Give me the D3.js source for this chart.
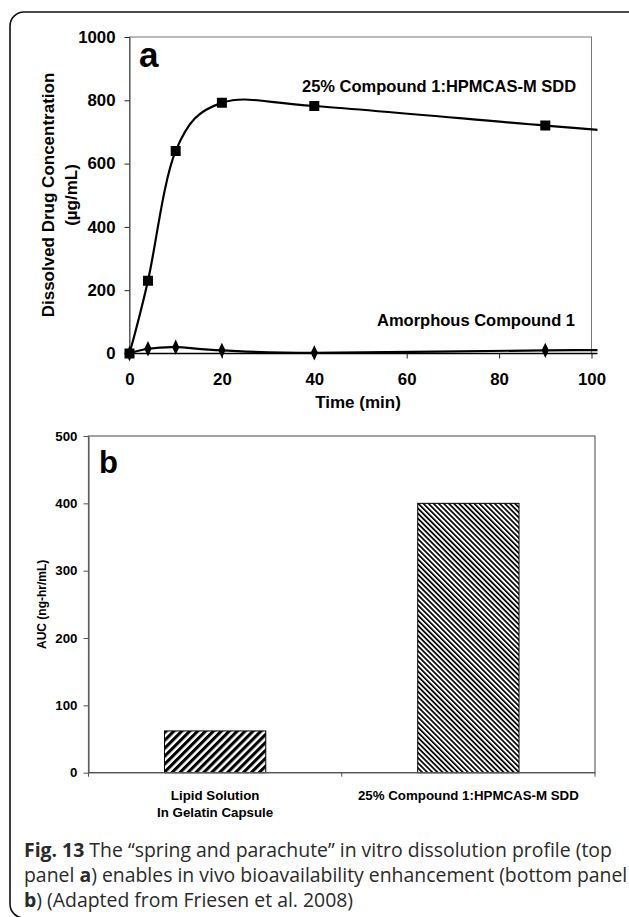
<!DOCTYPE html>
<html>
<head>
<meta charset="utf-8">
<script src="https://cdn.jsdelivr.net/npm/d3@7"></script>
<style>
  body { margin: 0; background: #fff; }
  svg { display: block; }
</style>
</head>
<body>
<div id="fig"></div>
<script>
// panel a data: dissolution profile
const timeMin = [0, 4, 10, 20, 40, 90, 120];
const sddConc = [0, 230, 640, 792, 782, 720, 685];
const amorphConc = [0, 15, 20, 10, 2, 10, 10];
const xTicksA = [0, 20, 40, 60, 80, 100];
const yTicksA = [0, 200, 400, 600, 800, 1000];

// panel b data: AUC bars
const aucCategories = ["Lipid Solution|In Gelatin Capsule", "25% Compound 1:HPMCAS-M SDD"];
const aucValues = [62, 400];
const yTicksB = [0, 100, 200, 300, 400, 500];

const sans = "'Liberation Sans', Arial, sans-serif";

const svg = d3.select("#fig").append("svg")
    .attr("width", 629)
    .attr("height", 917)
    .style("font-family", sans);

// rounded outer frame (runs off the right and bottom edges)
svg.append("rect")
    .attr("x", 10).attr("y", 12)
    .attr("width", 660).attr("height", 906)
    .attr("rx", 14)
    .attr("fill", "none")
    .attr("stroke", "#111")
    .attr("stroke-width", 1.6);

panelA();
panelB();
caption();

function panelA() {
    let x = d3.scaleLinear().domain([0, 100]).range([129.5, 591.5]);
    let y = d3.scaleLinear().domain([0, 1000]).range([353.5, 37]);
    let g = svg.append("g");

    // plot area box
    g.append("rect")
        .attr("x", x(0)).attr("y", y(1000))
        .attr("width", x(100) - x(0)).attr("height", y(0) - y(1000))
        .attr("fill", "none").attr("stroke", "#777").attr("stroke-width", 1);

    // y axis
    let ya = g.append("g")
        .attr("transform", "translate(" + x(0) + ",0)")
        .call(d3.axisLeft(y).tickValues(yTicksA).tickFormat(d3.format("d"))
            .tickSize(5).tickSizeOuter(0).tickPadding(9));
    ya.select(".domain").attr("stroke", "#444");
    ya.selectAll("line").attr("stroke", "#222");
    ya.selectAll("text").attr("font-size", 16.8).attr("font-weight", "bold").attr("fill", "#000")
        .attr("font-family", sans);

    // x axis
    let xa = g.append("g")
        .attr("transform", "translate(0," + y(0) + ")")
        .call(d3.axisBottom(x).tickValues(xTicksA).tickSize(5).tickSizeOuter(0).tickPadding(15));
    xa.select(".domain").remove();
    xa.selectAll("line").attr("stroke", "#222");
    xa.selectAll("text").attr("font-size", 16.8).attr("font-weight", "bold").attr("fill", "#000")
        .attr("font-family", sans);
    g.append("line")
        .attr("x1", x(0) - 5).attr("x2", x(100) + 6)
        .attr("y1", y(0)).attr("y2", y(0))
        .attr("stroke", "#000").attr("stroke-width", 1.5);

    // axis titles
    g.append("text")
        .attr("x", 358).attr("y", 408)
        .attr("text-anchor", "middle")
        .attr("font-size", 17).attr("font-weight", "bold")
        .text("Time (min)");

    let yt = g.append("text")
        .attr("transform", "translate(48,195) rotate(-90)")
        .attr("text-anchor", "middle")
        .attr("font-size", 17).attr("font-weight", "bold");
    yt.append("tspan").attr("x", 0).attr("y", 6).text("Dissolved Drug Concentration");
    yt.append("tspan").attr("x", 0).attr("y", 29).text("(\u00b5g/mL)");

    // clip so the curves stop at the end of the x axis
    svg.append("clipPath").attr("id", "clipA")
        .append("rect")
        .attr("x", x(0) - 10).attr("y", y(1000))
        .attr("width", x(100) - x(0) + 16).attr("height", y(0) - y(1000) + 10);

    let sddPts = timeMin.map((t, i) => [t, sddConc[i]]);
    let amPts = timeMin.map((t, i) => [t, amorphConc[i]]);

    let line = d3.line()
        .x(d => x(d[0]))
        .y(d => y(d[1]))
        .curve(d3.curveCardinal.tension(0));

    let lines = g.append("g").attr("clip-path", "url(#clipA)");
    lines.append("path").attr("d", line(amPts))
        .attr("fill", "none").attr("stroke", "#000").attr("stroke-width", 2.2);
    lines.append("path").attr("d", line(sddPts))
        .attr("fill", "none").attr("stroke", "#000").attr("stroke-width", 2.2);

    // markers
    lines.selectAll(".dia")
        .data(amPts)
        .enter()
        .append("path")
        .attr("class", "dia")
        .attr("transform", d => "translate(" + x(d[0]) + "," + y(d[1]) + ") scale(0.9,1.1)")
        .attr("d", d3.symbol(d3.symbolDiamond, 56))
        .attr("fill", "#000");
    lines.selectAll(".sq")
        .data(sddPts)
        .enter()
        .append("path")
        .attr("class", "sq")
        .attr("transform", d => "translate(" + x(d[0]) + "," + y(d[1]) + ")")
        .attr("d", d3.symbol(d3.symbolSquare, 100))
        .attr("fill", "#000");

    // series labels and panel letter
    g.append("text")
        .attr("x", 302).attr("y", 91.5)
        .attr("font-size", 16.5).attr("font-weight", "bold")
        .text("25% Compound 1:HPMCAS-M SDD");
    g.append("text")
        .attr("x", 377).attr("y", 326)
        .attr("font-size", 16.5).attr("font-weight", "bold")
        .text("Amorphous Compound 1");
    g.append("text")
        .attr("x", 139).attr("y", 66.5)
        .attr("font-size", 35).attr("font-weight", "bold")
        .text("a");
}

function panelB() {
    let x = d3.scaleBand()
        .domain(aucCategories)
        .range([88.5, 595])
        .paddingInner(0.6)
        .paddingOuter(0.3);
    let y = d3.scaleLinear().domain([0, 500]).range([772.7, 436]);
    let g = svg.append("g");

    // hatch patterns
    let defs = svg.append("defs");
    defs.append("pattern")
        .attr("id", "hatchA")
        .attr("patternUnits", "userSpaceOnUse")
        .attr("width", 5.6).attr("height", 10)
        .attr("patternTransform", "rotate(45)")
        .append("rect")
        .attr("width", 3.1).attr("height", 10)
        .attr("fill", "#000");
    defs.append("pattern")
        .attr("id", "hatchB")
        .attr("patternUnits", "userSpaceOnUse")
        .attr("width", 3.6).attr("height", 10)
        .attr("patternTransform", "rotate(-45)")
        .append("rect")
        .attr("width", 1.7).attr("height", 10)
        .attr("fill", "#000");

    // plot area box
    g.append("rect")
        .attr("x", 88.5).attr("y", y(500))
        .attr("width", 595 - 88.5).attr("height", y(0) - y(500))
        .attr("fill", "none").attr("stroke", "#666").attr("stroke-width", 1.2);

    // bars
    g.selectAll(".bar")
        .data(aucValues)
        .enter()
        .append("rect")
        .attr("class", "bar")
        .attr("x", (d, i) => x(aucCategories[i]))
        .attr("width", x.bandwidth())
        .attr("y", d => y(d))
        .attr("height", d => y(0) - y(d))
        .attr("fill", (d, i) => i === 0 ? "url(#hatchA)" : "url(#hatchB)")
        .attr("stroke", "#000")
        .attr("stroke-width", 1);

    // y axis
    let ya = g.append("g")
        .attr("transform", "translate(88.5,0)")
        .call(d3.axisLeft(y).tickValues(yTicksB).tickSize(5).tickSizeOuter(0).tickPadding(6));
    ya.select(".domain").attr("stroke", "#555");
    ya.selectAll("line").attr("stroke", "#555");
    ya.selectAll("text").attr("font-size", 13.3).attr("font-weight", "bold").attr("fill", "#000")
        .attr("font-family", sans);

    // x axis: ticks at category boundaries
    let bounds = [x.range()[0]].concat(aucCategories.map(c => x(c) + x.bandwidth() / 2 + x.step() / 2));
    g.append("line")
        .attr("x1", 88.5).attr("x2", 595)
        .attr("y1", y(0)).attr("y2", y(0))
        .attr("stroke", "#555").attr("stroke-width", 1.2);
    g.selectAll(".xt")
        .data(bounds)
        .enter()
        .append("line")
        .attr("x1", d => d).attr("x2", d => d)
        .attr("y1", y(0)).attr("y2", y(0) + 4)
        .attr("stroke", "#555");

    // category labels
    aucCategories.forEach(c => {
        let t = g.append("text")
            .attr("text-anchor", "middle")
            .attr("font-size", 13.3).attr("font-weight", "bold");
        c.split("|").forEach((s, i) => {
            t.append("tspan")
                .attr("x", x(c) + x.bandwidth() / 2)
                .attr("y", 800 + i * 16.7)
                .text(s);
        });
    });

    g.append("text")
        .attr("transform", "translate(46," + y(250) + ") rotate(-90)")
        .attr("text-anchor", "middle")
        .attr("font-size", 12).attr("font-weight", "bold")
        .text("AUC (ng-hr/mL)");

    g.append("text")
        .attr("x", 99).attr("y", 473)
        .attr("font-size", 31).attr("font-weight", "bold")
        .text("b");
}

function caption() {
    let lines = [
        [["Fig. 13", true], [" The \u201cspring and parachute\u201d in vitro dissolution profile (top", false]],
        [["panel ", false], ["a", true], [") enables in vivo bioavailability enhancement (bottom panel", false]],
        [["b", true], [") (Adapted from Friesen et al. 2008)", false]]
    ];
    let g = svg.append("g").style("font-family", "'Open Sans', 'Noto Sans', sans-serif");
    let texts = lines.map((parts, i) => {
        let t = g.append("text")
            .attr("x", 24).attr("y", 857 + i * 25)
            .attr("font-size", 18)
            .attr("fill", "#2a2a2a");
        parts.forEach(p => {
            t.append("tspan")
                .attr("font-weight", p[1] ? "bold" : "normal")
                .text(p[0]);
        });
        return t;
    });
    // fit the first line to the width it has in the figure
    let w = texts[0].node().getComputedTextLength();
    let fs = 18 * 588 / w;
    texts.forEach(t => t.attr("font-size", fs));
}
</script>
</body>
</html>
